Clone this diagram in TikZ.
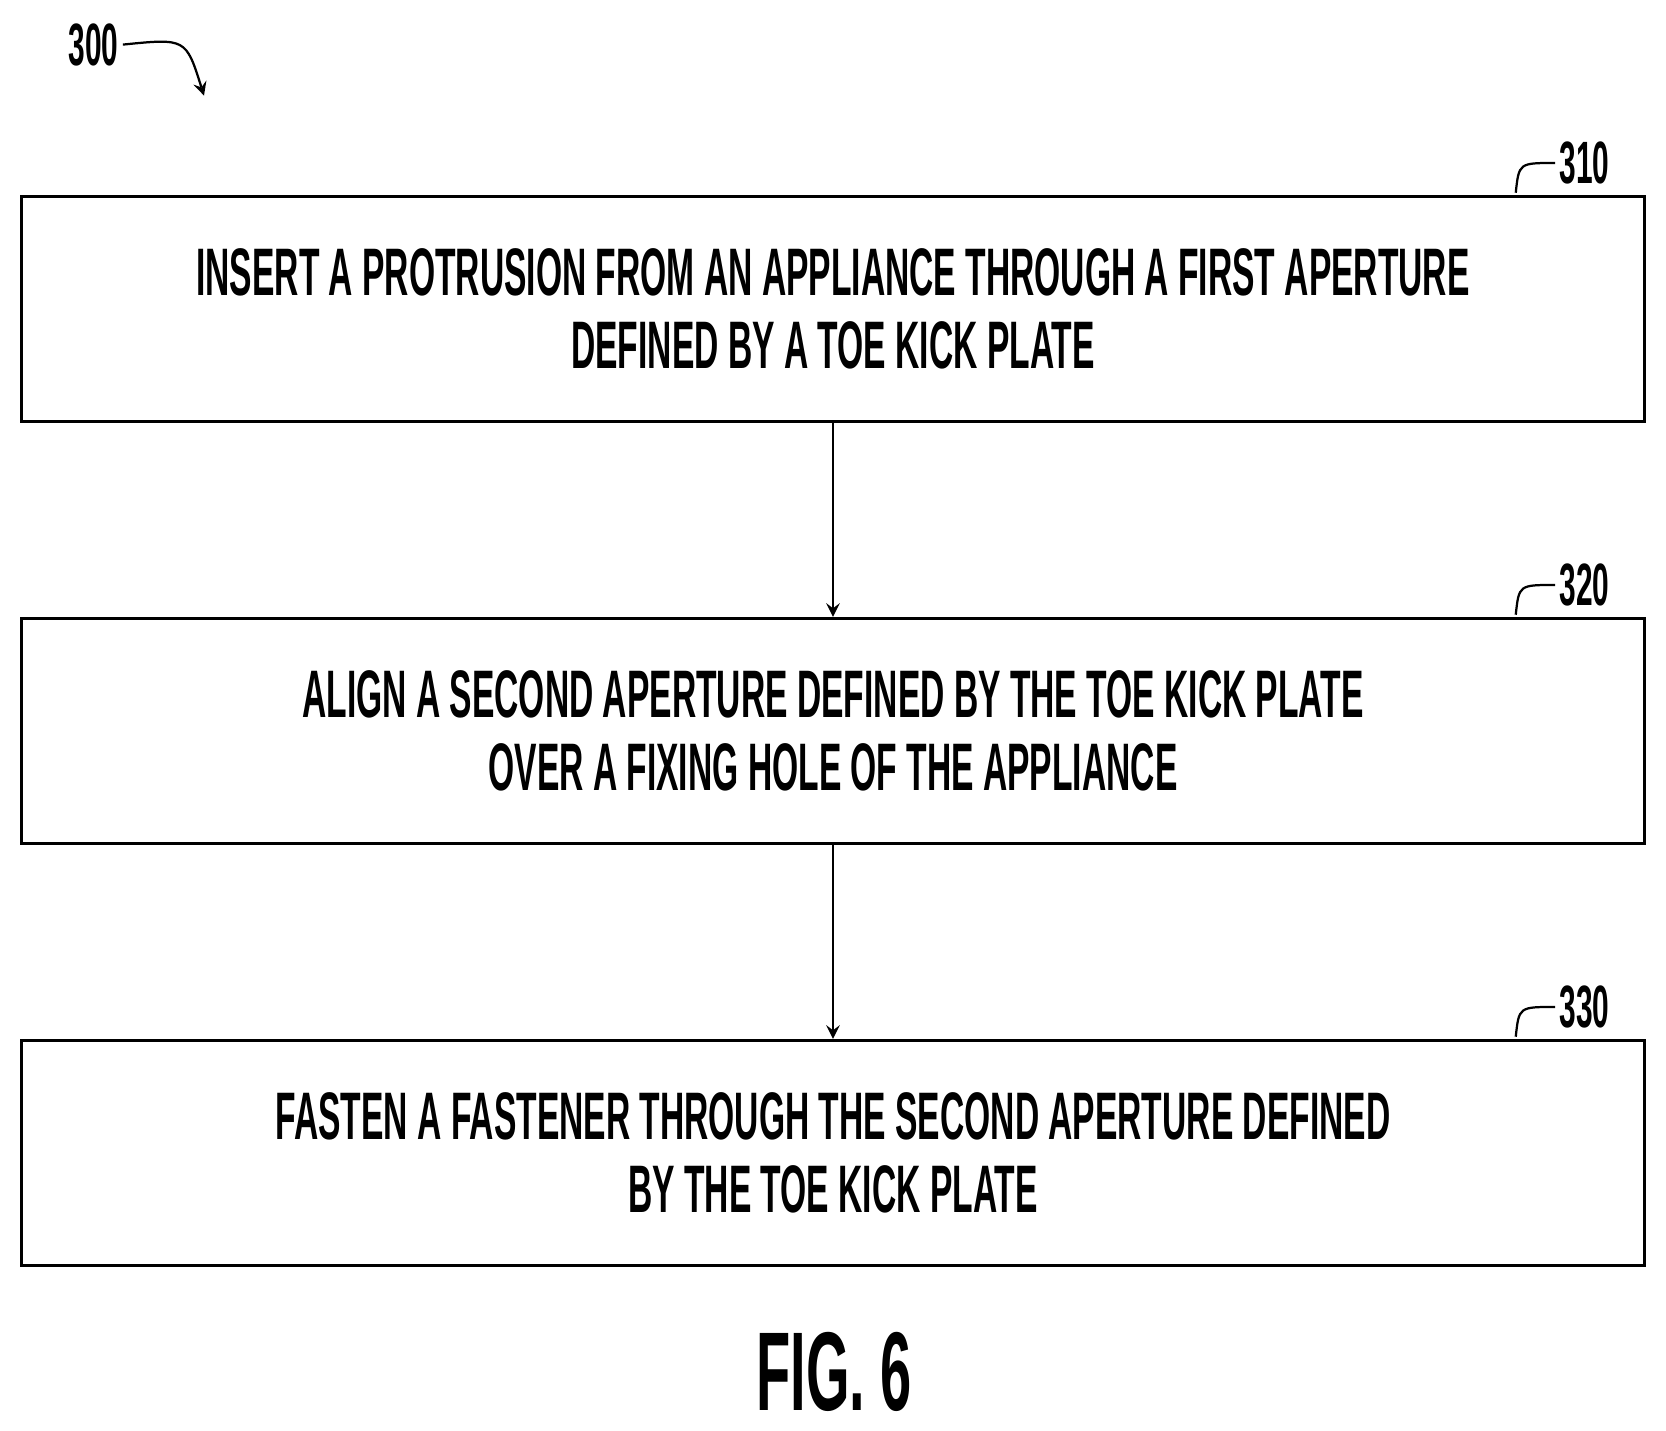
\documentclass[tikz,border=0pt]{standalone}
\usepackage{fontspec}
\setmainfont{Liberation Sans}[FakeStretch=0.5]
\usetikzlibrary{positioning}
\tikzset{
  stepbox/.style={draw, line width=0.9pt, minimum width=15.28cm, minimum height=2.12cm,
    align=center, font=\fontsize{18}{19.5}\selectfont\bfseries},
  flow/.style={->, >=stealth, line width=0.6pt},
  tag/.style={font=\fontsize{16}{18}\selectfont\bfseries},
}
\begin{document}
\begin{tikzpicture}
  \useasboundingbox (0,0) rectangle (15.68,13.46);
  %.
  \node[stepbox] (insert) at (7.84,10.55) {INSERT A PROTRUSION FROM AN APPLIANCE THROUGH A FIRST APERTURE\\DEFINED BY A TOE KICK PLATE};
  \node[stepbox, below=1.82cm of insert] (align) {ALIGN A SECOND APERTURE DEFINED BY THE TOE KICK PLATE\\OVER A FIXING HOLE OF THE APPLIANCE};
  \node[stepbox, below=1.82cm of align] (fasten) {FASTEN A FASTENER THROUGH THE SECOND APERTURE DEFINED\\BY THE TOE KICK PLATE};
  %.
  \draw[flow] (insert) -- (align);
  \draw[flow] (align) -- (fasten);
  %.
  \foreach \n/\t in {insert/310, align/320, fasten/330}{
    \node[tag, anchor=west, inner sep=1pt] (\n-tag) at ([xshift=-0.86cm, yshift=0.30cm]\n.north east) {\t};
    \draw[line width=0.6pt] ([xshift=-1.23cm, yshift=0.02cm]\n.north east)
      .. controls ([xshift=-1.2cm, yshift=0.3cm]\n.north east) .. (\n-tag.west);
  }
  %.
  \node[tag, inner sep=1pt] (fig) at (0.88,13.04) {300};
  \coordinate (figend) at (1.92,12.56);
  \draw[flow] (fig.east) .. controls (1.75,13.1) .. (figend);
  \node[font=\fontsize{30}{32}\selectfont\bfseries] (title) at (7.85,0.55) {FIG. 6};
\end{tikzpicture}
\end{document}
